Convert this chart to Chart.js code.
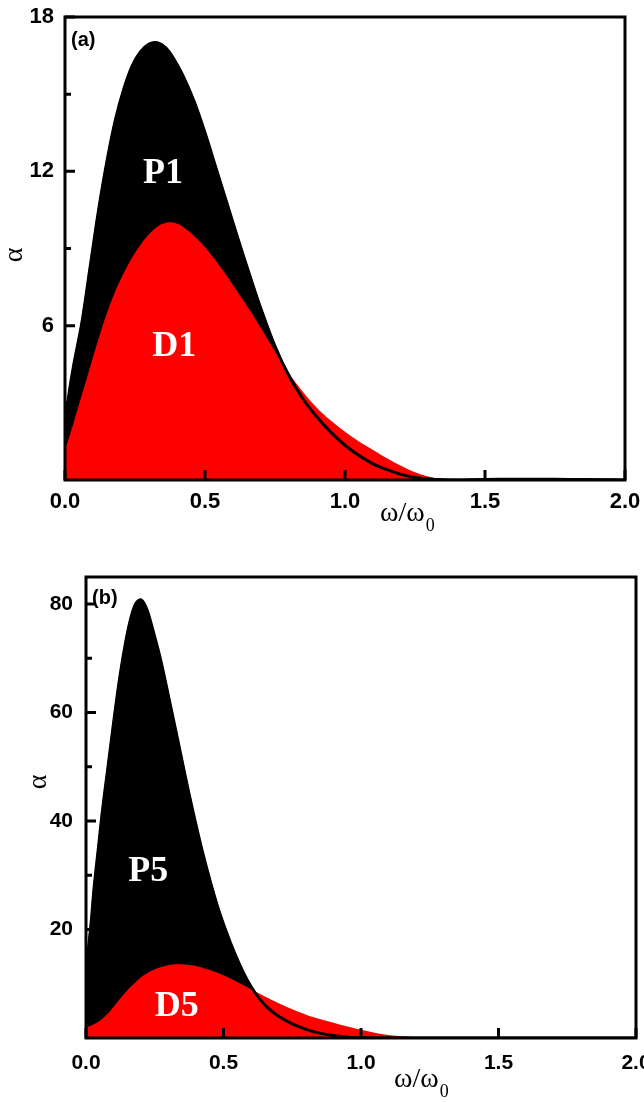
<!DOCTYPE html>
<html lang="en">
<head>
<meta charset="UTF-8">
<title>alpha x omega/omega0</title>
<script src="https://cdn.jsdelivr.net/npm/chart.js"></script>
<style>
    body { margin: 0; background: #fff; }
    .painel { position: absolute; left: 0; width: 644px; }
</style>
</head>
<body>
<div class="painel" style="top:0px;height:540px"><canvas id="graficoA" width="644" height="540"></canvas></div>
<div class="painel" style="top:540px;height:562px"><canvas id="graficoB" width="644" height="562"></canvas></div>

<script>
// ---- painel (a) ----
const omegaA = [0, 0.01, 0.03, 0.06, 0.09, 0.12, 0.15, 0.18, 0.21, 0.24, 0.27, 0.30, 0.33, 0.36, 0.39, 0.42,
    0.46, 0.50, 0.54, 0.58, 0.62, 0.66, 0.70, 0.75, 0.80, 0.85, 0.90, 0.95, 1.00, 1.05, 1.10, 1.15, 1.20,
    1.25, 1.30, 1.35, 1.40, 1.50, 1.60, 1.70, 1.80, 1.90, 2.00];
const alphaP1 = [1.7, 3.0, 4.4, 6.1, 8.3, 10.5, 12.4, 14.0, 15.2, 16.1, 16.65, 16.95, 17.0, 16.8, 16.35, 15.75,
    14.75, 13.5, 12.1, 10.7, 9.3, 7.95, 6.65, 5.2, 4.05, 3.15, 2.45, 1.85, 1.35, 0.95, 0.63, 0.4, 0.22,
    0.1, 0.04, 0.01, 0.0, 0.02, 0.03, 0.03, 0.02, 0.01, 0.0];
const alphaD1 = [1.2, 1.5, 2.2, 3.3, 4.4, 5.5, 6.5, 7.35, 8.05, 8.65, 9.15, 9.55, 9.85, 10.0, 10.0, 9.85,
    9.5, 9.05, 8.5, 7.9, 7.25, 6.6, 5.9, 5.0, 4.15, 3.42, 2.8, 2.3, 1.88, 1.5, 1.17, 0.85, 0.55,
    0.3, 0.13, 0.04, 0.01, 0.02, 0.05, 0.06, 0.05, 0.03, 0.0];

// ---- painel (b) ----
const omegaB = [0, 0.01, 0.02, 0.03, 0.045, 0.06, 0.08, 0.10, 0.12, 0.14, 0.16, 0.18, 0.20, 0.22, 0.24,
    0.27, 0.30, 0.33, 0.36, 0.39, 0.42, 0.45, 0.48, 0.51, 0.54, 0.57, 0.60, 0.63, 0.66, 0.70, 0.75,
    0.80, 0.85, 0.90, 0.95, 1.00, 1.05, 1.10, 1.15, 1.20, 1.25, 1.30, 1.40, 1.60, 1.80, 2.00];
const alphaP5 = [12.5, 17, 22, 28, 35, 42, 50, 58, 65.5, 71.8, 76.8, 80.0, 80.8, 79.2, 75.8,
    70, 63, 55.8, 48.5, 41.5, 35, 29.2, 24, 19.6, 15.7, 12.3, 9.5, 7.3, 5.6, 4.0, 2.6,
    1.6, 0.9, 0.45, 0.15, 0.03, 0, 0, 0, 0, 0, 0, 0, 0, 0, 0];
const alphaD5 = [2.0, 2.1, 2.3, 2.6, 3.0, 3.6, 4.5, 5.7, 7.0, 8.2, 9.3, 10.3, 11.2, 11.9, 12.45,
    13.05, 13.45, 13.6, 13.55, 13.35, 13.0, 12.55, 12.0, 11.35, 10.6, 9.8, 9.0, 8.2, 7.4, 6.4, 5.3,
    4.3, 3.5, 2.8, 2.1, 1.5, 0.95, 0.55, 0.3, 0.12, 0.03, 0, 0, 0, 0, 0];

// ticks
const xTicks = [0, 0.5, 1.0, 1.5, 2.0];
const yTicksA = [6, 12, 18];
const yMinorA = [3, 9, 15];
const yTicksB = [20, 40, 60, 80];
const yMinorB = [10, 30, 50, 70];

function pontos(xs, ys) {
    return xs.map((v, i) => ({ x: v, y: ys[i] }));
}

// moldura, ticks para dentro e textos
const marcas = {
    id: 'marcas',
    afterDraw(chart, args, o) {
        const ctx = chart.ctx;
        const ca = chart.chartArea;
        const x = chart.scales.x, y = chart.scales.y;
        ctx.save();
        ctx.strokeStyle = '#000';
        ctx.lineWidth = 3;
        ctx.beginPath();
        xTicks.forEach(v => {
            const px = x.getPixelForValue(v);
            ctx.moveTo(px, ca.bottom); ctx.lineTo(px, ca.bottom - 10);
        });
        o.maiores.forEach(v => {
            const py = y.getPixelForValue(v);
            ctx.moveTo(ca.left, py); ctx.lineTo(ca.left + 10, py);
        });
        o.menores.forEach(v => {
            const py = y.getPixelForValue(v);
            ctx.moveTo(ca.left, py); ctx.lineTo(ca.left + 6, py);
        });
        ctx.stroke();
        ctx.strokeRect(ca.left, ca.top, ca.width, ca.height);

        // P / D
        ctx.fillStyle = '#fff';
        ctx.font = 'bold 36px "Liberation Serif", "Times New Roman", serif';
        ctx.textAlign = 'center';
        ctx.textBaseline = 'middle';
        o.rotulos.forEach(r => {
            ctx.fillText(r.t, x.getPixelForValue(r.x), y.getPixelForValue(r.y));
        });

        ctx.fillStyle = '#000';
        ctx.textAlign = 'left';
        ctx.font = 'bold 20px "Liberation Sans", Arial, sans-serif';
        ctx.fillText(o.painel, ca.left + 6, ca.top + o.painelDy);

        // titulo eixo x: ω/ω0
        ctx.font = '28px "Liberation Serif", "Times New Roman", serif';
        ctx.textBaseline = 'alphabetic';
        ctx.fillText('ω/ω', o.tx, o.ty);
        const w = ctx.measureText('ω/ω').width;
        ctx.font = '18px "Liberation Serif", "Times New Roman", serif';
        ctx.fillText('0', o.tx + w + 1, o.ty + 10);

        // titulo eixo y: α
        ctx.font = '28px "Liberation Serif", "Times New Roman", serif';
        ctx.textAlign = 'center';
        ctx.textBaseline = 'middle';
        ctx.translate(o.ax, o.ay);
        ctx.rotate(-Math.PI / 2);
        ctx.fillText('α', 0, 0);
        ctx.restore();
    }
};

function criarGrafico(id, omega, serieP, serieD, cfg) {
    const fonteTick = { family: '"Liberation Sans", Arial, sans-serif', weight: 'bold', size: cfg.tamFonte };
    return new Chart(document.getElementById(id), {
        type: 'line',
        data: {
            datasets: [
                { data: pontos(omega, serieP), fill: 'origin', backgroundColor: '#000', borderColor: '#000', borderWidth: 2, order: 3 },
                { data: pontos(omega, serieD), fill: 'origin', backgroundColor: '#ff0000', borderColor: '#ff0000', borderWidth: 0, order: 2 },
                { data: pontos(omega, serieP), fill: false, borderColor: '#000', borderWidth: 3, order: 1 }
            ]
        },
        options: {
            responsive: false,
            animation: false,
            events: [],
            parsing: false,
            elements: {
                point: { radius: 0 },
                line: { tension: 0.35 }
            },
            layout: { padding: { top: cfg.topo, right: cfg.direita, left: 0, bottom: 0 } },
            plugins: {
                legend: { display: false },
                tooltip: { enabled: false },
                marcas: cfg.marcas
            },
            scales: {
                x: {
                    type: 'linear', min: 0, max: 2,
                    grid: { display: false, drawTicks: false },
                    border: { display: false },
                    ticks: { font: fonteTick, color: '#000', padding: cfg.padX, maxRotation: 0, autoSkip: false,
                        callback: v => v.toFixed(1) },
                    afterBuildTicks: s => { s.ticks = xTicks.map(v => ({ value: v })); },
                    afterFit: s => { s.height = cfg.altX; s.paddingLeft = 0; s.paddingRight = 0; }
                },
                y: {
                    type: 'linear', min: 0, max: cfg.ymax,
                    grid: { display: false, drawTicks: false },
                    border: { display: false },
                    ticks: { font: fonteTick, color: '#000', padding: cfg.padY, autoSkip: false },
                    afterBuildTicks: s => { s.ticks = cfg.maiores.map(v => ({ value: v })); },
                    afterFit: s => { s.width = cfg.largY; s.paddingTop = 0; s.paddingBottom = 0; }
                }
            }
        },
        plugins: [marcas]
    });
}

criarGrafico('graficoA', omegaA, alphaP1, alphaD1, {
    ymax: 18, maiores: yTicksA, topo: 17, direita: 19, altX: 60, largY: 65,
    tamFonte: 22, padX: 9, padY: 11,
    marcas: {
        maiores: yTicksA, menores: yMinorA, painel: '(a)', painelDy: 23,
        rotulos: [{ t: 'P1', x: 0.35, y: 11.9 }, { t: 'D1', x: 0.39, y: 5.2 }],
        tx: 380, ty: 521, ax: 15, ay: 255
    }
});

criarGrafico('graficoB', omegaB, alphaP5, alphaD5, {
    ymax: 85, maiores: yTicksB, topo: 37, direita: 8, altX: 64, largY: 86,
    tamFonte: 21, padX: 13, padY: 13,
    marcas: {
        maiores: yTicksB, menores: yMinorB, painel: '(b)', painelDy: 21,
        rotulos: [{ t: 'P5', x: 0.226, y: 30.7 }, { t: 'D5', x: 0.33, y: 5.7 }],
        tx: 394, ty: 547, ax: 39, ay: 242
    }
});
</script>
</body>
</html>
